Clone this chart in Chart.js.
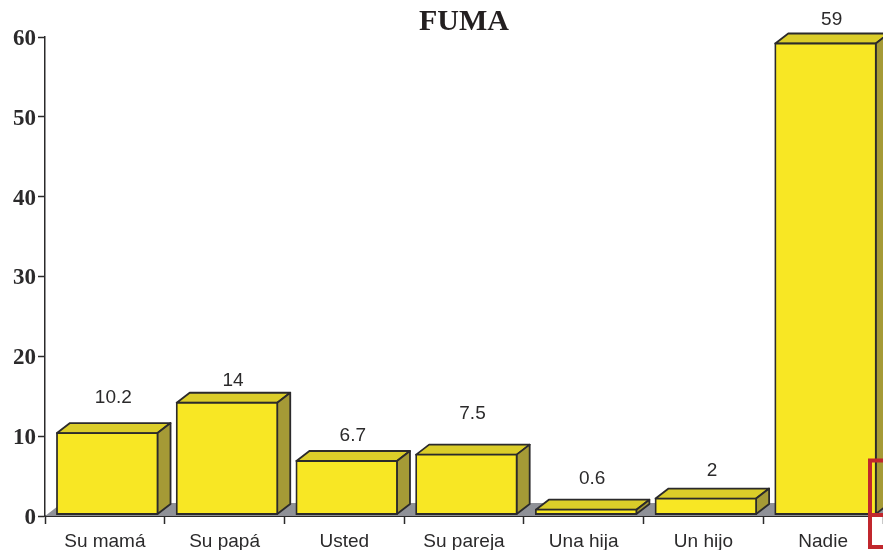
<!DOCTYPE html>
<html lang="es">
<head>
  <meta charset="UTF-8" />
  <title>FUMA</title>
  <script src="https://cdn.jsdelivr.net/npm/chart.js"></script>
  <style>
    html, body { margin: 0; padding: 0; background: #fff; }
    canvas { display: block; }
  </style>
</head>
<body>
  <canvas id="fumaChart" width="883" height="550"></canvas>
  <script>
    const categories = ['Su mamá', 'Su papá', 'Usted', 'Su pareja', 'Una hija', 'Un hijo', 'Nadie'];
    const values = [10.2, 14, 6.7, 7.5, 0.6, 2, 59];
    const valueLabels = ['10.2', '14', '6.7', '7.5', '0.6', '2', '59'];
    const yTicks = [0, 10, 20, 30, 40, 50, 60];

    // how far each value label sits above its bar, placed by hand in the original
    const labelLift = [25, 12, 15, 31, 21, 18, 14];

    const ink = '#2b2a2b';
    const depthX = 13;
    const depthY = 10;
    const shiftX = 2.4;
    const shiftY = -1.5;

    // side and top faces, the floor, and the labels around the real bar elements
    const bars3d = {
      id: 'bars3d',
      beforeDatasetsDraw(chart) {
        const ctx = chart.ctx;
        const area = chart.chartArea;
        const bars = chart.getDatasetMeta(0).data;

        ctx.save();
        ctx.fillStyle = '#8f9197';
        ctx.beginPath();
        ctx.moveTo(area.left, area.bottom);
        ctx.lineTo(area.left + 17, area.bottom - 13);
        ctx.lineTo(area.right, area.bottom - 13);
        ctx.lineTo(area.right, area.bottom);
        ctx.closePath();
        ctx.fill();

        ctx.strokeStyle = ink;
        ctx.lineWidth = 1.8;
        ctx.lineJoin = 'round';
        bars.forEach(bar => {
          const left = bar.x - bar.width / 2 + shiftX;
          const right = bar.x + bar.width / 2 + shiftX;
          const top = bar.y + shiftY;
          const base = bar.base + shiftY;

          ctx.fillStyle = '#dbcd29';
          ctx.beginPath();
          ctx.moveTo(left, top);
          ctx.lineTo(left + depthX, top - depthY);
          ctx.lineTo(right + depthX, top - depthY);
          ctx.lineTo(right, top);
          ctx.closePath();
          ctx.fill();
          ctx.stroke();

          ctx.fillStyle = '#a59a36';
          ctx.beginPath();
          ctx.moveTo(right, top);
          ctx.lineTo(right + depthX, top - depthY);
          ctx.lineTo(right + depthX, base - depthY);
          ctx.lineTo(right, base);
          ctx.closePath();
          ctx.fill();
          ctx.stroke();
        });
        ctx.restore();

        // front faces come out of the library, nudged to meet the floor
        ctx.save();
        ctx.translate(shiftX, shiftY);
      },
      afterDatasetsDraw(chart) {
        const ctx = chart.ctx;
        ctx.restore();

        const bars = chart.getDatasetMeta(0).data;
        ctx.save();
        ctx.fillStyle = ink;
        ctx.font = '19px "Liberation Sans"';
        ctx.textAlign = 'center';
        ctx.textBaseline = 'middle';
        bars.forEach((bar, i) => {
          const x = bar.x + 2 + depthX / 2;
          const y = bar.y + shiftY - depthY - labelLift[i];
          ctx.fillText(valueLabels[i], x, y);
        });

        // y tick labels sit a little under their ticks, so they are placed here
        const yScale = chart.scales.y;
        ctx.font = 'bold 23px "Liberation Serif"';
        ctx.textAlign = 'right';
        yTicks.forEach(v => {
          ctx.fillText(String(v), 36, yScale.getPixelForValue(v) + 2);
        });

        // red box in the corner of the scan
        ctx.strokeStyle = '#c1272d';
        ctx.lineWidth = 4;
        ctx.beginPath();
        ctx.moveTo(890, 460.5);
        ctx.lineTo(870, 460.5);
        ctx.lineTo(870, 547);
        ctx.lineTo(890, 547);
        ctx.moveTo(870, 515);
        ctx.lineTo(890, 515);
        ctx.stroke();
        ctx.restore();
      }
    };

    new Chart(document.getElementById('fumaChart'), {
      type: 'bar',
      data: {
        labels: categories,
        datasets: [{
          data: values,
          backgroundColor: '#f8e724',
          borderColor: ink,
          borderWidth: 1.8,
          borderSkipped: false,
          inflateAmount: 0.9,
          categoryPercentage: 1,
          barPercentage: 0.84,
          clip: false
        }]
      },
      options: {
        responsive: false,
        animation: false,
        layout: { padding: { top: 0, right: -1, bottom: 0, left: 0 } },
        plugins: {
          legend: { display: false },
          tooltip: { enabled: false },
          title: {
            display: true,
            text: 'FUMA',
            fullSize: false,
            color: '#231f20',
            font: { family: '"Liberation Serif"', size: 30, weight: 'bold', lineHeight: 1 },
            padding: { top: 7, bottom: 0 }
          }
        },
        scales: {
          x: {
            afterFit(scale) { scale.height = 34; },
            border: { color: ink, width: 2 },
            grid: { drawOnChartArea: false, tickColor: ink, tickLength: 8, tickWidth: 1.5 },
            ticks: {
              color: ink,
              padding: 6,
              maxRotation: 0,
              font: { family: '"Liberation Sans"', size: 19 }
            }
          },
          y: {
            min: 0,
            max: 60,
            afterFit(scale) { scale.width = 45; },
            afterBuildTicks(scale) { scale.ticks = yTicks.map(v => ({ value: v })); },
            border: { color: ink, width: 1.5 },
            grid: { drawOnChartArea: false, tickColor: ink, tickLength: 7, tickWidth: 1.5 },
            ticks: { display: false }
          }
        }
      },
      plugins: [bars3d]
    });
  </script>
</body>
</html>
